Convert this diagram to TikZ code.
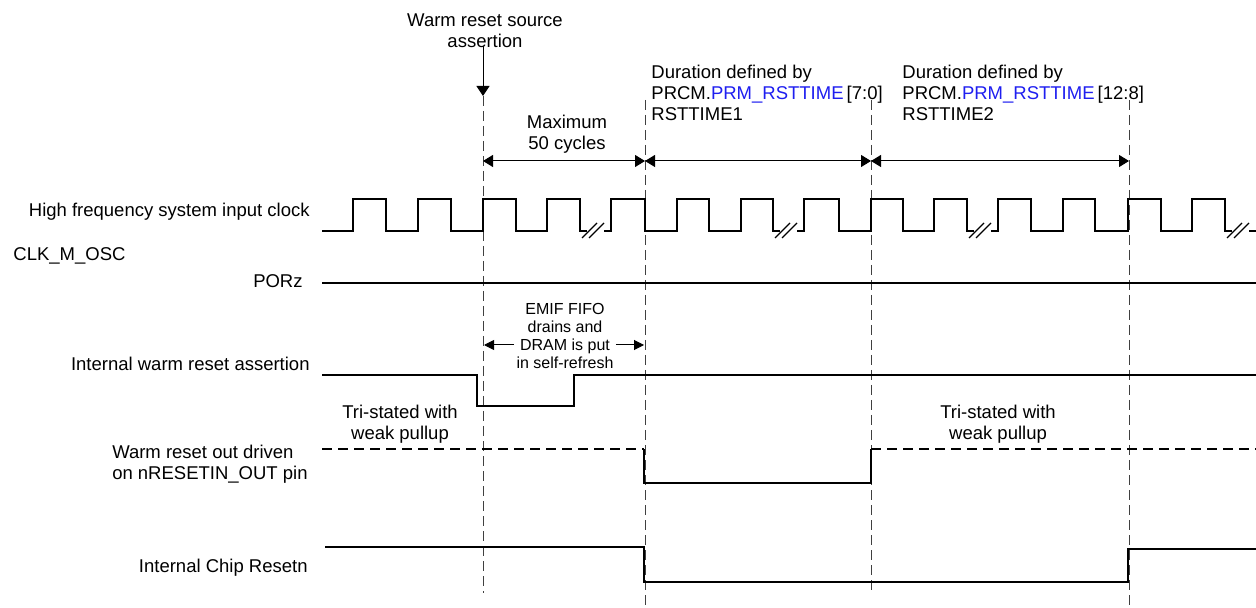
\documentclass[tikz,border=0pt]{standalone}
\usepackage{fontspec}
\setmainfont{Liberation Sans}
\usepackage{tikz}
\usetikzlibrary{arrows.meta,positioning,calc}
\definecolor{regblue}{RGB}{30,30,240}
\tikzset{
  sig/.style={line width=1.2pt},
  sigdash/.style={line width=1.2pt,dash pattern=on 5pt off 3pt},
  tline/.style={line width=0.5pt,draw=black!75,dash pattern=on 5pt off 2.5pt},
  dim/.style={{Triangle[length=5pt,width=6pt]}-{Triangle[length=5pt,width=6pt]},line width=0.5pt},
  dimsm/.style={-{Triangle[length=5pt,width=5pt]},line width=0.5pt},
  downarr/.style={-{Triangle[length=5pt,width=6.5pt]},line width=0.5pt},
  brk/.style={line width=0.6pt},
  lbl/.style={inner sep=0pt,font=\fontsize{9.25}{10.5}\selectfont},
  lblsm/.style={inner sep=0pt,font=\fontsize{8}{9}\selectfont},
}

\begin{document}
\begin{tikzpicture}[x=0.5pt,y=-0.5pt]
 \useasboundingbox (0,0) rectangle (1256,608);
 % time markers
 \coordinate (t0) at (483,96);  \coordinate (b0) at (483,593);
 \coordinate (t1) at (645,100); \coordinate (b1) at (645,608);
 \coordinate (t2) at (871,100); \coordinate (b2) at (871,593);
 \coordinate (t3) at (1129,100);\coordinate (b3) at (1129,608);
 \foreach \i in {0,...,3}{\draw[tline] (t\i) -- (b\i);}
 % top labels
 \node[lbl,align=center] (src) at (485,31) {Warm reset source\\assertion};
 \draw[downarr] (src.south -| t0) ++(0,-2) -- (t0);
 \node[lbl,align=center] (maxc) at (567,134) {Maximum\\50 cycles};
 \node[lbl,align=left,anchor=west] (dur1) at (651,93) {Duration defined by\\PRCM.\textcolor{regblue}{PRM\_RSTTIME}\,[7:0]\\RSTTIME1};
 \node[lbl,align=left,anchor=west] (dur2) at (902,93) {Duration defined by\\PRCM.\textcolor{regblue}{PRM\_RSTTIME}\,[12:8]\\RSTTIME2};
 \foreach \i/\x in {0/483,1/645,2/871,3/1129}{\coordinate (a\i) at (\x,161);}
 \draw[dim] (a0) -- (a1);
 \draw[dim] (a1) -- (a2);
 \draw[dim] (a2) -- (a3);
 % signal names
 \node[lbl,anchor=base east] (clk) at (310,217) {High frequency system input clock};
 \node[lbl,anchor=base west] (osc) at (13,261) {CLK\_M\_OSC};
 \node[lbl,anchor=base east] (por) at (303,288) {PORz};
 \node[lbl,anchor=base east] (iwr) at (310,371) {Internal warm reset assertion};
 \node[lbl,align=left,anchor=east] (wro) at (308,464) {Warm reset out driven\\on nRESETIN\_OUT pin};
 \node[lbl,anchor=base east] (icr) at (308,572) {Internal Chip Resetn};
 % clock
 \draw[sig] (322,231) foreach \r/\f in {353/386,418/451,483/516,547/580}{ -- (\r,231) |- (\f,199) -- (\f,231)} -- (587,231);
 \draw[sig] (604,231) foreach \r/\f in {611/645,677/709,741/773}{ -- (\r,231) |- (\f,199) -- (\f,231)} -- (780,231);
 \draw[sig] (797,231) foreach \r/\f in {804/839,871/903,934/967}{ -- (\r,231) |- (\f,199) -- (\f,231)} -- (974,231);
 \draw[sig] (991,231) foreach \r/\f in {998/1031,1063/1095,1128/1161,1192/1225}{ -- (\r,231) |- (\f,199) -- (\f,231)} -- (1232,231);
 \draw[sig] (1249,231) -- (1256,231);
 \foreach \a in {580,773,967,1225}{\draw[brk] (\a+2,238) -- (\a+17,223) (\a+9,238) -- (\a+24,223);}
 % PORz
 \draw[sig] (322,283) -- (1256,283);
 % internal warm reset
 \draw[sig] (322,375) -- (477,375) -- (477,406) -- (574,406) -- (574,375) -- (1256,375);
 \node[lblsm,align=center] (emif) at (565,336) {EMIF FIFO\\drains and\\DRAM is put\\in self-refresh};
 \coordinate (e0) at (484,345); \coordinate (e1) at (644,345);
 \draw[dimsm] ([xshift=-1pt]emif.west |- e0) -- (e0);
 \draw[dimsm] ([xshift=1pt]emif.east |- e1) -- (e1);
 % warm reset out
 \node[lbl,align=center] (tri1) at (400,424) {Tri-stated with\\weak pullup};
 \node[lbl,align=center] (tri2) at (998,424) {Tri-stated with\\weak pullup};
 \draw[sigdash] (322,449) -- (644,449);
 \draw[sig] (644,449) -- (644,483) -- (871,483) -- (871,449);
 \draw[sigdash] (871,449) -- (1256,449);
 % chip reset
 \draw[sig] (325,547) -- (644,547) -- (644,582) -- (1128,582) -- (1128,549) -- (1256,549);
\end{tikzpicture}
\end{document}
